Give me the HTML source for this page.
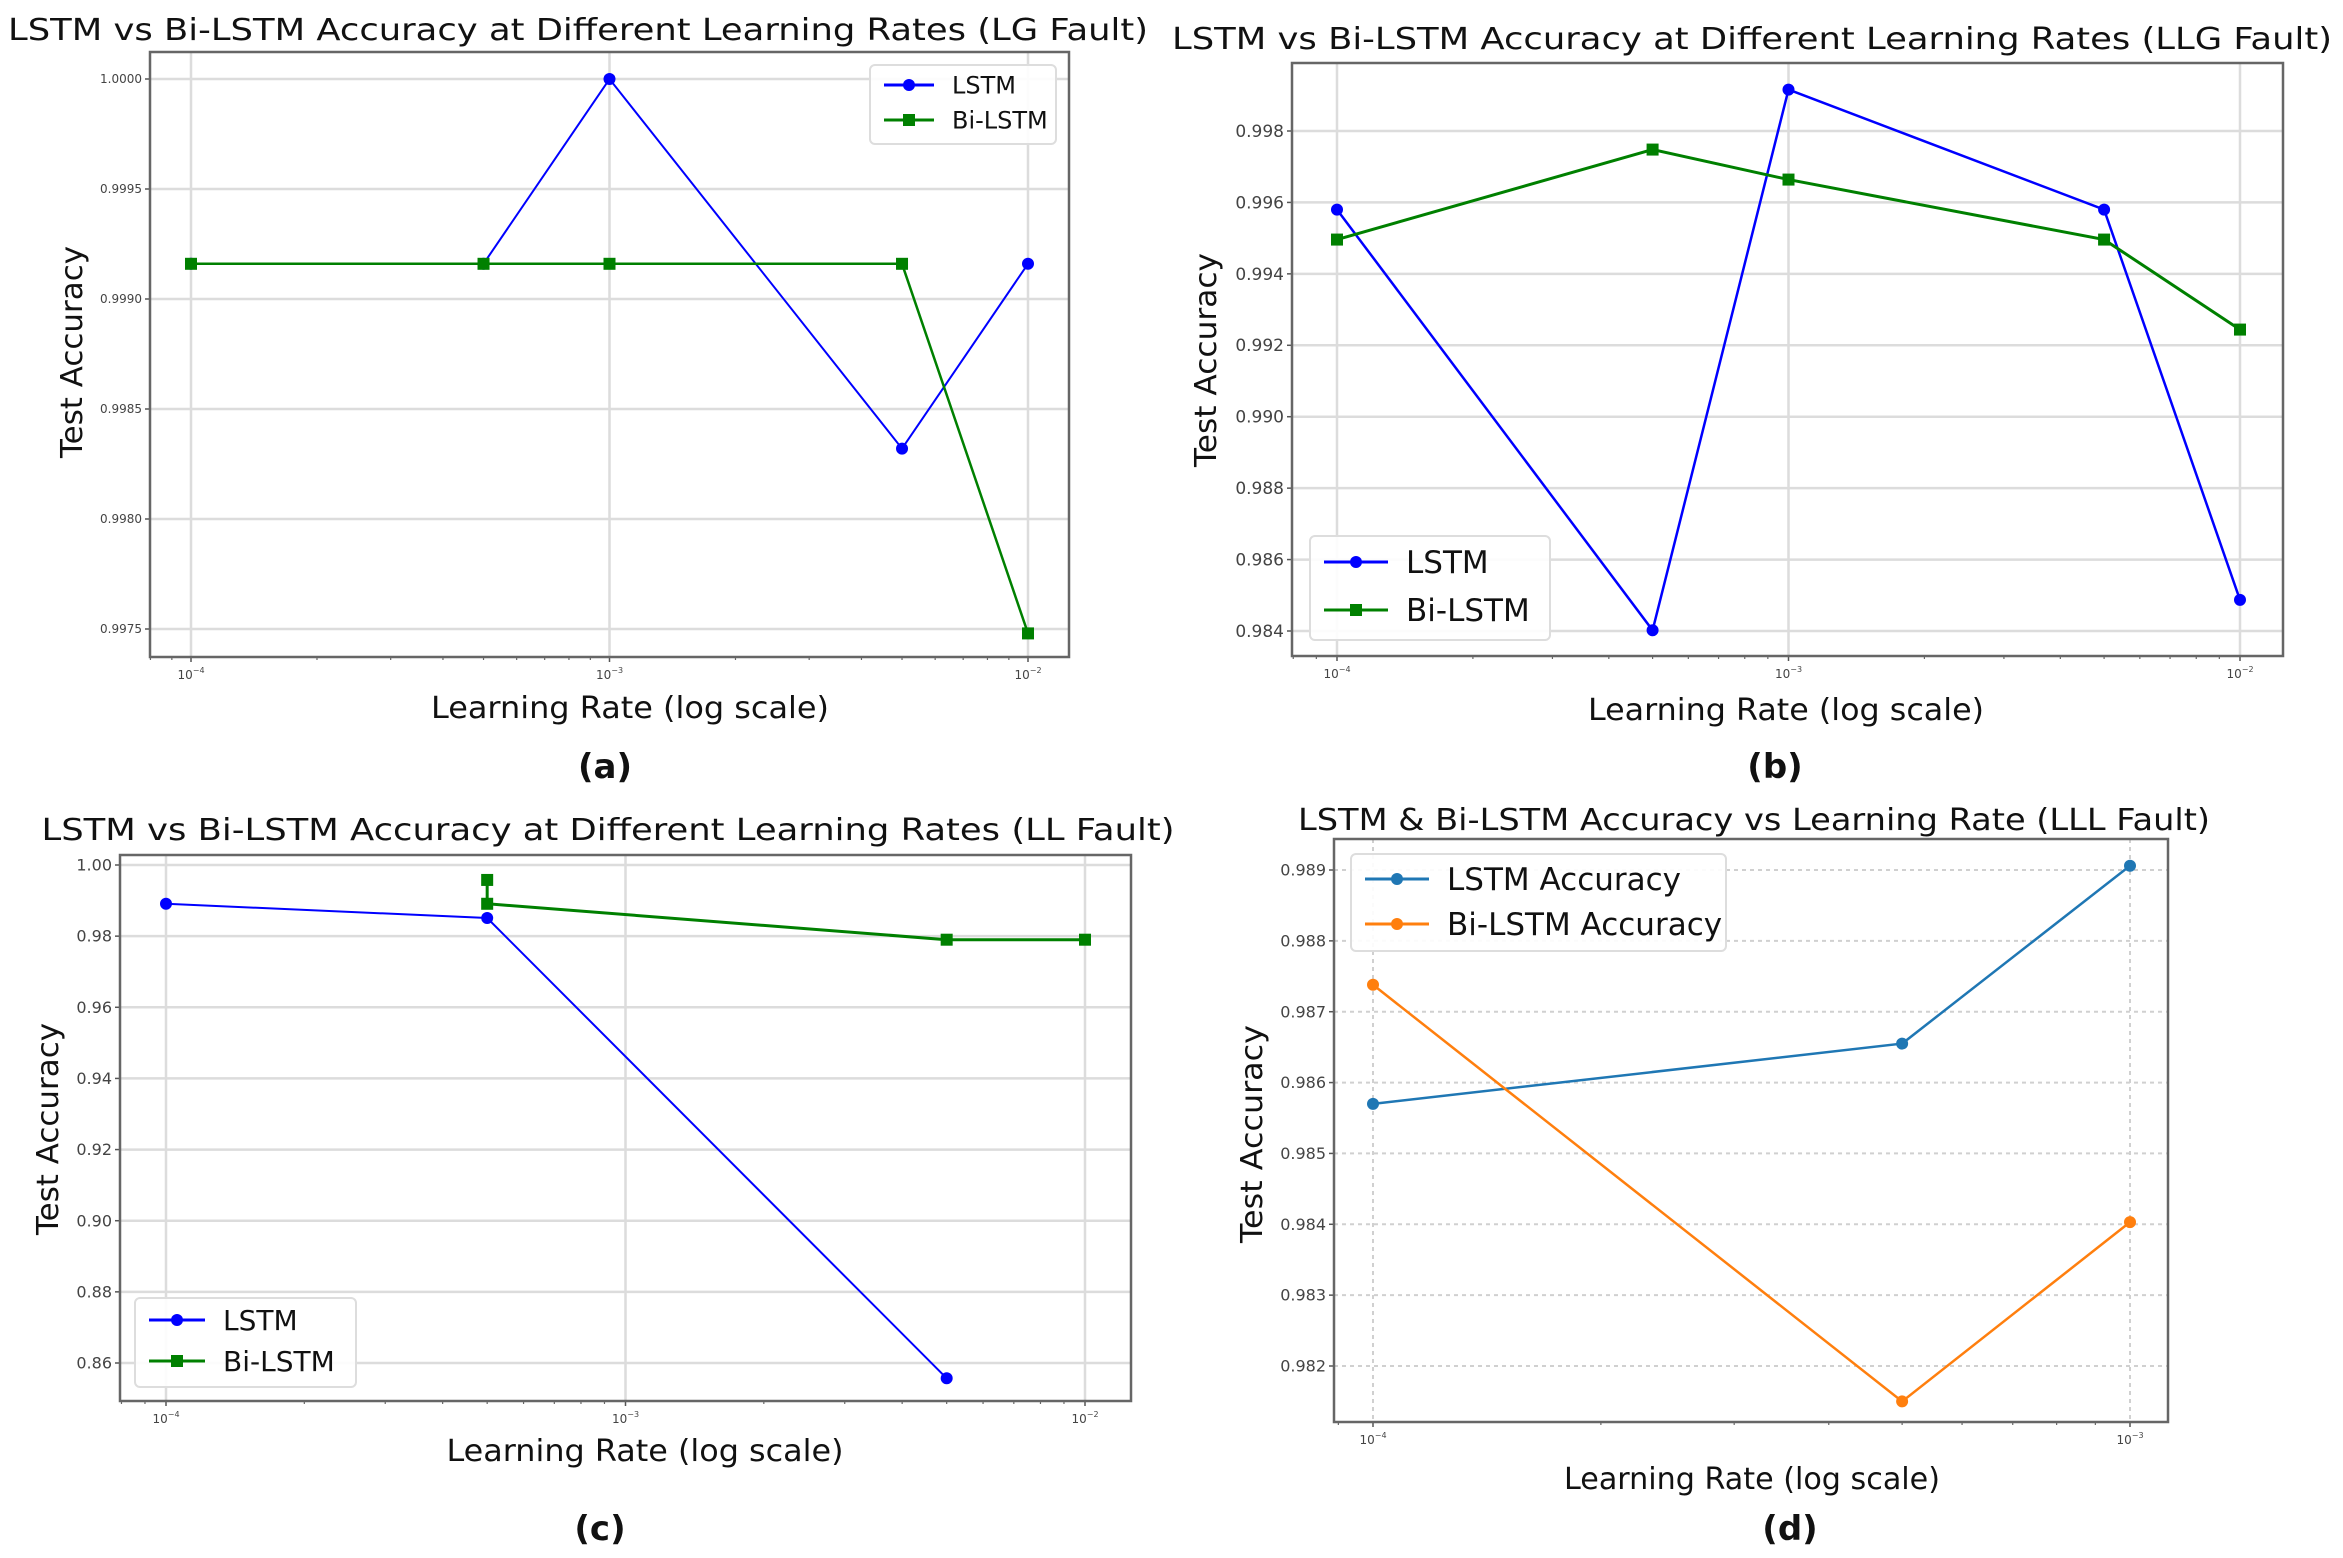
<!DOCTYPE html>
<html><head><meta charset="utf-8">
<style>
html,body{margin:0;padding:0;background:#fff;}
svg{display:block;}
text{font-family:"DejaVu Sans","Liberation Sans",sans-serif;}
</style></head>
<body>
<svg id="fig" width="2343" height="1558" viewBox="0 0 2343 1558" xmlns="http://www.w3.org/2000/svg"></svg>
<script>
// ---- Panel (a) LG Fault ----
const aRates = [0.0001, 0.0005, 0.001, 0.005, 0.01];
const aLstm = [0.99916, 0.99916, 1.0000, 0.99832, 0.99916];
const aBi = [0.99916, 0.99916, 0.99916, 0.99916, 0.99748];
const aYTicks = [0.9975, 0.9980, 0.9985, 0.9990, 0.9995, 1.0000];
const aYLabels = ["0.9975","0.9980","0.9985","0.9990","0.9995","1.0000"];
// ---- Panel (b) LLG Fault ----
const bRates = [0.0001, 0.0005, 0.001, 0.005, 0.01];
const bLstm = [0.99580, 0.98402, 0.99916, 0.99580, 0.98487];
const bBi = [0.99496, 0.99748, 0.99664, 0.99496, 0.99244];
const bYTicks = [0.984, 0.986, 0.988, 0.990, 0.992, 0.994, 0.996, 0.998];
const bYLabels = ["0.984","0.986","0.988","0.990","0.992","0.994","0.996","0.998"];
// ---- Panel (c) LL Fault ----
const cLstmRates = [0.0001, 0.0005, 0.005];
const cLstm = [0.9891, 0.9851, 0.8557];
const cBiRates = [0.0005, 0.0005, 0.005, 0.01];
const cBi = [0.9958, 0.9891, 0.9790, 0.9790];
const cYTicks = [0.86, 0.88, 0.90, 0.92, 0.94, 0.96, 0.98, 1.00];
const cYLabels = ["0.86","0.88","0.90","0.92","0.94","0.96","0.98","1.00"];
// ---- Panel (d) LLL Fault ----
const dRates = [0.0001, 0.0005, 0.001];
const dLstm = [0.98570, 0.98655, 0.98906];
const dBi = [0.98738, 0.98150, 0.98403];
const dYTicks = [0.982, 0.983, 0.984, 0.985, 0.986, 0.987, 0.988, 0.989];
const dYLabels = ["0.982","0.983","0.984","0.985","0.986","0.987","0.988","0.989"];

const NS = "http://www.w3.org/2000/svg";
const fig = document.getElementById('fig');
function mk(tag, attrs, parent, txt){
  const e = document.createElementNS(NS, tag);
  for (const k in attrs) e.setAttribute(k, attrs[k]);
  if (txt !== undefined) e.textContent = txt;
  (parent || fig).appendChild(e);
  return e;
}

function panel(p){
  const g = mk('g', {});
  
  
  const lx0 = Math.log10(p.xr[0]), lx1 = Math.log10(p.xr[1]);
  const X = v => p.px0 + (Math.log10(v) - lx0) / (lx1 - lx0) * (p.px1 - p.px0);
  const Y = v => p.py0 + (v - p.yr[0]) / (p.yr[1] - p.yr[0]) * (p.py1 - p.py0);
  // grid
  const gridStyle = p.dashed ? {'stroke':'#d0d0d0','stroke-width':2,'stroke-dasharray':'4,4'} : {'stroke':'#dcdcdc','stroke-width':2.5};
  p.yTicks.forEach((t,i)=>{
    const y = Y(t);
    const gl = mk('line', Object.assign({x1:p.L,x2:p.R,y1:y,y2:y}, gridStyle), g);
    
    
    mk('line',{x1:p.L-5,x2:p.L,y1:y,y2:y,stroke:'#555','stroke-width':1.5},g);
    const tl = mk('text',{x:p.L-8,y:y+p.tfs*0.35,'font-size':p.tfs,'text-anchor':'end',fill:'#444'},g,p.yLabels[i]);
    
    
  });
  p.xMajor.forEach((t,i)=>{
    const x = X(t);
    const gl = mk('line', Object.assign({x1:x,x2:x,y1:p.T,y2:p.B}, gridStyle), g);
    
    
    mk('line',{x1:x,x2:x,y1:p.B,y2:p.B+5,stroke:'#555','stroke-width':1.5},g);
    const tl = mk('text',{x:x,y:p.B+22,'font-size':12,'text-anchor':'middle',fill:'#444'},g);
    
    
    mk('tspan',{},tl,'10');
    mk('tspan',{dy:-6,'font-size':8},tl,p.xLabels[i]);
  });
  // minor ticks
  for (let d = Math.floor(lx0)-1; d <= Math.ceil(lx1); d++){
    for (let m=2;m<=9;m++){
      const v = m*Math.pow(10,d); const x = X(v);
      if (x > p.L && x < p.R) mk('line',{x1:x,x2:x,y1:p.B,y2:p.B+3,stroke:'#666','stroke-width':1.2},g);
    }
  }
  // frame
  const fr = mk('rect',{x:p.L,y:p.T,width:p.R-p.L,height:p.B-p.T,fill:'none',stroke:'#666','stroke-width':2.5},g);
  
  
  // series
  p.series.forEach(s=>{
    const pts = s.x.map((xv,i)=>X(xv)+','+Y(s.y[i])).join(' ');
    const pl = mk('polyline',{points:pts,fill:'none',stroke:s.color,'stroke-width':s.lw||2.5},g);
    
    
    s.x.forEach((xv,i)=>{
      let m;
      if (s.marker === 'square') m = mk('rect',{x:X(xv)-6,y:Y(s.y[i])-6,width:12,height:12,fill:s.color},g);
      else m = mk('circle',{cx:X(xv),cy:Y(s.y[i]),r:6,fill:s.color},g);
      
      
    });
  });
  // legend
  const lg = mk('g',{},g);
  
  
  mk('rect',{x:p.leg.x,y:p.leg.y,width:p.leg.w,height:p.leg.h,rx:5,fill:'#fff',stroke:'#ddd','stroke-width':2,'fill-opacity':0.9},lg);
  p.series.forEach((s,i)=>{
    const ey = p.leg.rows[i];
    const lx = p.leg.x + 14;
    mk('line',{x1:lx,x2:lx+p.leg.ll,y1:ey,y2:ey,stroke:s.color,'stroke-width':3},lg);
    if (s.marker==='square') mk('rect',{x:lx+p.leg.ll/2-6,y:ey-6,width:12,height:12,fill:s.color},lg);
    else mk('circle',{cx:lx+p.leg.ll/2,cy:ey,r:6,fill:s.color},lg);
    const t = mk('text',{x:lx+p.leg.ll+18,y:ey+p.leg.fs*0.36,'font-size':p.leg.fs,fill:'#111'},lg,s.label);
    
    
  });
  // titles
  const tt = mk('text',{x:p.title.x,y:p.title.y,'font-size':30,'text-anchor':'middle',fill:'#111',textLength:p.title.w,lengthAdjust:'spacingAndGlyphs'},g,p.title.text);
  
  
  const xl = mk('text',{x:p.xl.x,y:p.xl.y,'font-size':30,'text-anchor':'middle',fill:'#111',textLength:p.xl.w,lengthAdjust:'spacingAndGlyphs'},g,'Learning Rate (log scale)');
  
  
  const yl = mk('text',{x:0,y:0,'font-size':30,'text-anchor':'middle',fill:'#111',transform:`translate(${p.yl.x},${p.yl.y}) rotate(-90)`,textLength:p.yl.w,lengthAdjust:'spacingAndGlyphs'},g,'Test Accuracy');
  
  
  const cap = mk('text',{x:p.cap.x,y:p.cap.y,'font-size':34,'font-weight':'bold','text-anchor':'middle',fill:'#111','font-family':'Liberation Sans, sans-serif'},g,p.cap.text);
  
  
}

const BLUE='#0000ff', GREEN='#008000';
panel({name:'panel-a-lg-fault', L:150,R:1069,T:52,B:657, xr:[1e-4,1e-2], px0:191,px1:1028, yr:[0.9975,1.0], py0:629,py1:79,
  yTicks:aYTicks, yLabels:aYLabels, tfs:12, xMajor:[1e-4,1e-3,1e-2], xLabels:['−4','−3','−2'],
  series:[{name:'lstm',label:'LSTM',x:aRates,y:aLstm,color:BLUE,marker:'circle',lw:2},
          {name:'bi-lstm',label:'Bi-LSTM',x:aRates,y:aBi,color:GREEN,marker:'square',lw:2.5}],
  leg:{x:870,y:65,w:186,h:79,rows:[85,120],ll:50,fs:24},
  title:{x:578,y:40,w:1140,text:'LSTM vs Bi-LSTM Accuracy at Different Learning Rates (LG Fault)'},
  xl:{x:630,y:718,w:398}, yl:{x:82,y:352,w:212}, cap:{x:605,y:778,text:'(a)'}});

panel({name:'panel-b-llg-fault', L:1292,R:2283,T:63,B:656, xr:[1e-4,1e-2], px0:1337,px1:2240, yr:[0.984,0.998], py0:631,py1:131,
  yTicks:bYTicks, yLabels:bYLabels, tfs:17, xMajor:[1e-4,1e-3,1e-2], xLabels:['−4','−3','−2'],
  series:[{name:'lstm',label:'LSTM',x:bRates,y:bLstm,color:BLUE,marker:'circle',lw:2.5},
          {name:'bi-lstm',label:'Bi-LSTM',x:bRates,y:bBi,color:GREEN,marker:'square',lw:3}],
  leg:{x:1310,y:536,w:240,h:104,rows:[562,610],ll:64,fs:31},
  title:{x:1752,y:49,w:1160,text:'LSTM vs Bi-LSTM Accuracy at Different Learning Rates (LLG Fault)'},
  xl:{x:1786,y:720,w:396}, yl:{x:1216,y:360,w:214}, cap:{x:1775,y:778,text:'(b)'}});

panel({name:'panel-c-ll-fault', L:120,R:1131,T:855,B:1401, xr:[1e-4,1e-2], px0:166,px1:1085, yr:[0.86,1.00], py0:1363,py1:865,
  yTicks:cYTicks, yLabels:cYLabels, tfs:16, xMajor:[1e-4,1e-3,1e-2], xLabels:['−4','−3','−2'],
  series:[{name:'lstm',label:'LSTM',x:cLstmRates,y:cLstm,color:BLUE,marker:'circle',lw:2},
          {name:'bi-lstm',label:'Bi-LSTM',x:cBiRates,y:cBi,color:GREEN,marker:'square',lw:3}],
  leg:{x:135,y:1298,w:221,h:89,rows:[1320,1361],ll:56,fs:28},
  title:{x:608,y:840,w:1133,text:'LSTM vs Bi-LSTM Accuracy at Different Learning Rates (LL Fault)'},
  xl:{x:645,y:1461,w:397}, yl:{x:58,y:1129,w:212}, cap:{x:600,y:1540,text:'(c)'}});

panel({name:'panel-d-lll-fault', L:1334,R:2168,T:839,B:1422, xr:[1e-4,1e-3], px0:1373,px1:2130, yr:[0.982,0.989], py0:1366,py1:870,
  yTicks:dYTicks, yLabels:dYLabels, tfs:16, xMajor:[1e-4,1e-3], xLabels:['−4','−3'], dashed:true,
  series:[{name:'lstm',label:'LSTM Accuracy',x:dRates,y:dLstm,color:'#1f77b4',marker:'circle',lw:2.5},
          {name:'bi-lstm',label:'Bi-LSTM Accuracy',x:dRates,y:dBi,color:'#ff7f0e',marker:'circle',lw:2.5}],
  leg:{x:1351,y:854,w:375,h:97,rows:[879,924],ll:64,fs:31},
  title:{x:1754,y:830,w:912,text:'LSTM & Bi-LSTM Accuracy vs Learning Rate (LLL Fault)'},
  xl:{x:1752,y:1489,w:376}, yl:{x:1262,y:1134,w:218}, cap:{x:1790,y:1540,text:'(d)'}});
</script>
</body></html>
